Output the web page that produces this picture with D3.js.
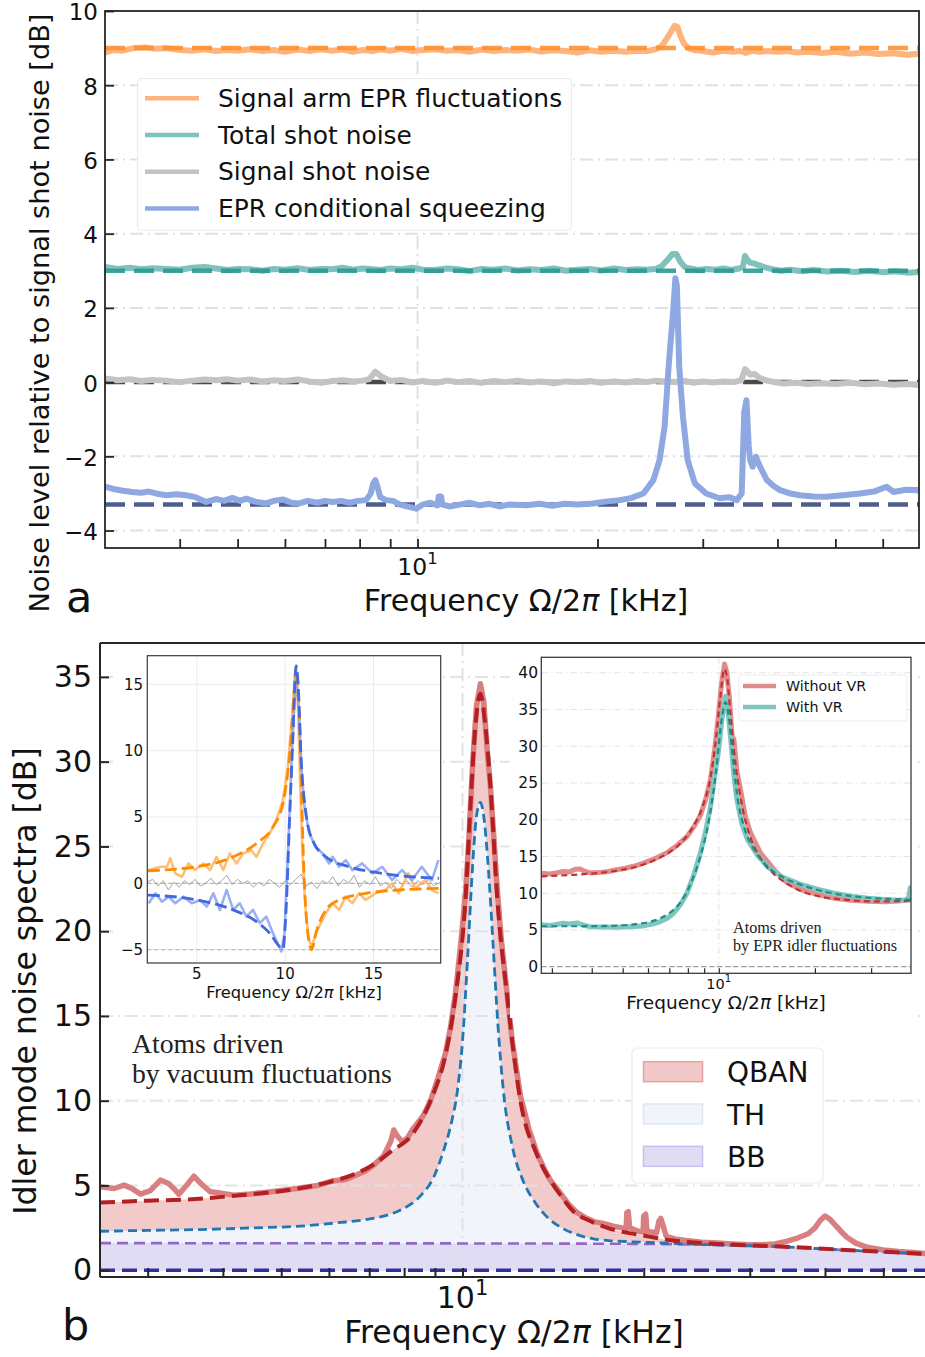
<!DOCTYPE html>
<html>
<head>
<meta charset="utf-8">
<script src="https://cdn.jsdelivr.net/npm/d3@7"></script>
<style>
  body { margin: 0; background: #fff; }
  svg { display: block; }
</style>
</head>
<body>
<svg id="fig" width="925" height="1357"></svg>
<script>
// ---------------- Panel a: noise levels relative to signal shot noise ----------------
const topYTicks = [-4, -2, 0, 2, 4, 6, 8, 10];
const topXTicks = [4, 5, 6, 7, 8, 9, 10, 20, 30, 40, 50, 60];

// [frequency kHz, dB]
const signalArmEPR = [[3.0,8.88],[3.1,8.95],[3.2,8.93],[3.35,9.0],[3.5,9.02],[3.65,8.98],[3.8,9.0],[4.0,8.95],[4.2,8.93],[4.4,8.97],[4.6,8.92],[4.8,8.95],[5.0,8.93],[5.25,8.97],[5.5,8.92],[5.75,8.95],[6.0,8.9],[6.3,8.96],[6.6,8.92],[6.9,8.97],[7.2,8.93],[7.5,8.96],[7.8,8.9],[8.1,8.95],[8.4,8.92],[8.7,8.97],[9.0,8.93],[9.4,8.98],[9.8,8.92],[10.2,8.95],[10.7,8.97],[11.2,8.93],[11.7,8.95],[12.2,8.9],[12.8,8.96],[13.4,8.92],[14.0,8.95],[14.7,8.93],[15.4,8.96],[16.1,8.91],[16.9,8.94],[17.7,8.92],[18.5,8.88],[19.4,8.94],[20.3,8.9],[21.3,8.93],[22.3,8.9],[23.3,8.93],[24.2,8.92],[25.0,8.97],[25.6,9.05],[26.1,9.25],[26.5,9.42],[26.9,9.6],[27.2,9.58],[27.5,9.35],[27.9,9.12],[28.4,9.0],[29.0,8.95],[30.0,8.92],[31.2,8.88],[32.5,8.93],[33.8,8.9],[34.6,8.93],[35.4,8.87],[36.3,8.93],[37.3,8.9],[38.5,8.92],[40.0,8.9],[41.5,8.92],[43.0,8.88],[45.0,8.9],[47.5,8.87],[50.0,8.9],[53.0,8.85],[56.0,8.88],[59.0,8.84],[62.5,8.86],[66.0,8.82],[69.0,8.85]];
const totalShotNoise = [[3.0,3.1],[3.15,3.05],[3.3,3.08],[3.45,3.04],[3.6,3.07],[3.8,3.05],[4.0,3.03],[4.2,3.08],[4.4,3.1],[4.6,3.06],[4.8,3.02],[5.0,3.05],[5.25,3.04],[5.5,3.0],[5.75,3.05],[6.0,3.03],[6.3,3.07],[6.6,3.02],[6.9,3.05],[7.2,3.04],[7.5,3.08],[7.8,3.03],[8.1,3.06],[8.4,3.04],[8.7,3.02],[9.0,3.06],[9.4,3.04],[9.8,3.08],[10.2,3.03],[10.7,3.02],[11.2,3.06],[11.7,3.04],[12.2,2.99],[12.8,3.05],[13.4,3.03],[14.0,3.06],[14.7,3.01],[15.4,3.04],[16.1,3.02],[16.9,3.06],[17.7,3.0],[18.5,3.03],[19.4,3.05],[20.3,3.01],[21.3,3.06],[22.3,3.02],[23.3,3.04],[24.2,3.03],[25.0,3.05],[25.6,3.12],[26.2,3.3],[26.7,3.45],[27.1,3.45],[27.5,3.25],[28.0,3.1],[28.6,3.06],[29.4,3.02],[30.4,3.05],[31.5,3.03],[32.5,3.06],[33.5,3.02],[34.5,3.06],[35.0,3.1],[35.3,3.4],[35.6,3.3],[36.0,3.22],[36.5,3.2],[37.2,3.15],[38.0,3.1],[39.0,3.05],[40.5,3.0],[42.0,3.03],[44.0,2.99],[46.0,3.02],[48.5,2.98],[51.0,3.0],[54.0,2.97],[57.0,3.0],[60.0,2.96],[63.0,2.99],[66.0,2.95],[69.0,2.97]];
const signalShotNoise = [[3.0,0.1],[3.15,0.05],[3.3,0.08],[3.45,0.03],[3.6,0.06],[3.8,0.04],[4.0,0.0],[4.2,0.04],[4.4,0.07],[4.6,0.05],[4.8,0.08],[5.0,0.04],[5.25,0.07],[5.5,0.02],[5.75,0.05],[6.0,0.03],[6.3,0.07],[6.6,0.02],[6.9,-0.02],[7.2,0.03],[7.5,0.05],[7.8,0.02],[8.1,0.04],[8.3,0.08],[8.5,0.28],[8.7,0.15],[9.0,0.03],[9.4,0.06],[9.8,-0.01],[10.2,0.03],[10.7,-0.02],[11.2,0.04],[11.7,0.0],[12.2,0.03],[12.8,-0.02],[13.4,0.03],[14.0,0.0],[14.7,0.04],[15.4,-0.01],[16.1,0.02],[16.9,-0.03],[17.7,0.02],[18.5,0.0],[19.4,0.03],[20.3,-0.02],[21.3,0.02],[22.3,-0.01],[23.3,0.03],[24.2,0.0],[25.0,0.04],[26.0,0.02],[27.0,0.0],[28.0,0.03],[29.0,-0.02],[30.0,0.02],[31.2,-0.01],[32.5,0.02],[33.8,0.0],[34.8,0.05],[35.3,0.35],[35.6,0.3],[36.0,0.2],[36.6,0.22],[37.3,0.12],[38.2,0.05],[39.5,0.0],[41.0,-0.04],[43.0,-0.02],[45.0,-0.05],[47.5,-0.03],[50.0,-0.05],[53.0,-0.02],[56.0,-0.06],[59.0,-0.04],[62.5,-0.07],[66.0,-0.05],[69.0,-0.08]];
const eprConditional = [[3.0,-2.82],[3.1,-2.88],[3.2,-2.92],[3.33,-2.96],[3.45,-2.98],[3.55,-2.95],[3.65,-3.0],[3.8,-3.05],[3.95,-3.02],[4.1,-3.05],[4.25,-3.1],[4.43,-3.23],[4.6,-3.15],[4.75,-3.2],[4.9,-3.12],[5.05,-3.2],[5.17,-3.14],[5.35,-3.22],[5.58,-3.27],[5.75,-3.2],[5.95,-3.16],[6.15,-3.25],[6.34,-3.27],[6.55,-3.2],[6.8,-3.25],[7.0,-3.2],[7.21,-3.23],[7.45,-3.2],[7.7,-3.25],[7.95,-3.2],[8.2,-3.18],[8.35,-3.0],[8.42,-2.75],[8.5,-2.64],[8.58,-2.85],[8.66,-3.1],[8.86,-3.18],[9.1,-3.2],[9.35,-3.3],[9.6,-3.35],[9.95,-3.41],[10.2,-3.3],[10.5,-3.25],[10.8,-3.32],[10.85,-3.08],[10.95,-3.08],[11.0,-3.3],[11.3,-3.35],[11.76,-3.3],[12.2,-3.25],[12.7,-3.32],[13.2,-3.28],[13.7,-3.35],[14.2,-3.3],[15.2,-3.32],[16.0,-3.28],[16.8,-3.33],[17.6,-3.28],[18.5,-3.3],[19.67,-3.27],[20.6,-3.22],[21.8,-3.18],[22.8,-3.12],[23.86,-3.0],[24.8,-2.64],[25.4,-2.1],[25.9,-1.2],[26.3,0.41],[26.75,1.85],[27.0,2.8],[27.15,2.6],[27.4,0.41],[27.8,-0.94],[28.3,-2.1],[29.1,-2.73],[30.4,-3.0],[32.0,-3.13],[33.2,-3.1],[34.2,-3.18],[34.85,-3.0],[35.2,-0.8],[35.5,-0.49],[35.8,-1.7],[36.0,-2.1],[36.35,-2.28],[36.8,-2.01],[37.4,-2.28],[38.4,-2.64],[39.4,-2.8],[40.4,-2.91],[42.0,-3.0],[43.6,-3.05],[46.0,-3.08],[48.3,-3.09],[51.5,-3.05],[55.0,-3.0],[58.0,-2.95],[60.9,-2.82],[62.6,-2.96],[65.5,-2.9],[68.5,-2.91],[69.0,-2.95]];
// theoretical levels (dB)
const topLevels = [9.0, 3.0, 0.0, -3.3];

// ---------------- Panel b: idler mode noise spectra ----------------
const botYTicks = [0, 5, 10, 15, 20, 25, 30, 35];
const botXTicks = [3, 4, 5, 6, 7, 8, 9, 10, 20, 30, 40, 50];

const qbanMeasured = [[2.5,4.92],[2.64,4.82],[2.74,5.02],[2.83,4.8],[2.92,4.49],[3.03,4.69],[3.15,5.32],[3.25,5.12],[3.32,4.8],[3.38,4.49],[3.48,5.0],[3.58,5.55],[3.68,5.1],[3.81,4.63],[3.95,4.55],[4.17,4.43],[4.45,4.5],[4.74,4.6],[5.0,4.7],[5.38,4.85],[5.75,5.0],[6.11,5.28],[6.4,5.35],[6.6,5.55],[6.9,5.85],[7.12,6.2],[7.4,6.75],[7.6,7.6],[7.69,8.27],[7.8,7.9],[7.94,7.58],[8.1,7.8],[8.3,8.4],[8.6,9.1],[8.85,10.0],[9.1,11.3],[9.37,12.8],[9.55,14.3],[9.74,16.4],[9.95,19.5],[10.12,22.3],[10.25,25.5],[10.4,30],[10.55,33.3],[10.71,34.6],[10.85,33.5],[11.0,30.5],[11.13,28.5],[11.3,25],[11.42,22.5],[11.6,19.5],[11.86,16.3],[12.1,13.5],[12.48,10.3],[12.9,8.3],[13.3,6.9],[13.7,5.9],[14.0,5.3],[14.5,4.6],[15.0,3.9],[15.5,3.4],[16.0,3.1],[16.6,2.85],[17.2,2.75],[17.8,2.6],[18.4,2.5],[18.7,2.45],[18.75,3.4],[18.85,3.45],[18.95,2.5],[19.6,2.3],[19.95,2.25],[20.0,3.2],[20.15,3.3],[20.25,2.3],[21.0,2.2],[21.2,2.9],[21.35,3.05],[21.55,2.6],[21.8,2.0],[22.5,1.85],[23.5,1.75],[25,1.65],[26.5,1.6],[28,1.55],[30,1.5],[31.5,1.5],[33,1.55],[34.5,1.7],[36,1.9],[37.5,2.15],[38.5,2.5],[39.3,2.95],[40.0,3.2],[40.8,3.0],[41.5,2.7],[42.5,2.3],[43.5,1.95],[45,1.6],[47,1.35],[50,1.2],[53,1.1],[56,1.05],[60,0.95]];
const qbanModel = [[2.5,4.0],[3.0,4.1],[3.6,4.2],[4.2,4.4],[4.8,4.6],[5.4,4.85],[6.0,5.2],[6.6,5.65],[7.2,6.35],[7.6,7.0],[8.25,8.0],[8.85,10.0],[9.37,12.7],[9.74,16.2],[10.12,22.0],[10.33,28.0],[10.5,32.0],[10.71,34.0],[10.9,32.3],[11.13,28.5],[11.42,22.0],[11.86,16.2],[12.48,10.0],[13.3,6.8],[14.0,5.3],[14.5,4.5],[15.3,3.45],[16.3,2.9],[17.4,2.5],[19.8,2.07],[22.4,1.75],[25.5,1.58],[30,1.47],[35,1.37],[42.5,1.21],[50,1.09],[60,0.94]];
const thModel = [[2.5,2.3],[3.0,2.35],[3.67,2.4],[4.5,2.5],[5.38,2.6],[6.2,2.8],[6.95,3.0],[7.5,3.25],[7.89,3.55],[8.52,4.4],[8.96,5.5],[9.31,7.1],[9.6,8.8],[9.8,10.5],[10.0,13.5],[10.2,18.5],[10.4,24],[10.55,26.8],[10.71,27.6],[10.87,26.5],[11.05,23.5],[11.25,19.0],[11.45,14.5],[11.7,10.5],[12.1,7.3],[12.6,5.3],[13.2,4.0],[13.9,3.05],[14.7,2.45],[15.5,2.1],[16.5,1.85],[17.5,1.75],[19.0,1.68],[21,1.62],[25,1.52],[30,1.45],[35,1.36],[42.5,1.2],[50,1.08],[60,0.93]];
const bbModel = [[2.5,1.6],[5,1.59],[10,1.58],[15,1.57],[20,1.55],[25,1.5],[30,1.45],[35,1.36],[42.5,1.2],[50,1.08],[60,0.93]];
const legendB = ["QBAN", "TH", "BB"];

// inset: signal / idler quadratures (linear frequency axis)
const insetLXTicks = [5, 10, 15];
const insetLYTicks = [-5, 0, 5, 10, 15];
const quadOrangeMeas = [[2.28,1.0],[2.94,1.25],[3.31,1.25],[3.5,1.9],[3.78,0.75],[4.16,0.5],[4.53,1.5],[4.9,1.0],[5.37,1.5],[5.75,1.0],[6.12,2.0],[6.5,1.0],[6.87,2.25],[7.25,1.5],[7.62,2.25],[8.09,2.5],[8.37,2.0],[8.75,3.0],[9.12,3.75],[9.49,4.75],[9.87,6.25],[10.15,8.75],[10.39,12.5],[10.58,16.25],[10.73,13.25],[10.86,7.0],[10.99,2.0],[11.14,-1.75],[11.33,-4.25],[11.52,-4.75],[11.74,-3.75],[12.02,-3.0],[12.3,-2.25],[12.68,-1.5],[13.05,-2.0],[13.43,-1.0],[13.8,-1.5],[14.18,-0.75],[14.55,-1.25],[15.11,-0.75],[15.67,-0.5],[16.05,0.0],[16.42,-0.75],[16.98,0.75],[17.36,-0.38],[17.92,0.25],[18.3,-0.5],[18.67,-0.75]];
const quadOrangeFit = [[2.23,0.95],[5.0,1.25],[7.06,2.0],[8.37,3.0],[9.31,4.25],[9.87,6.0],[10.24,9.5],[10.52,14.5],[10.62,16.25],[10.75,14.5],[10.9,8.25],[11.03,2.0],[11.18,-2.25],[11.37,-4.5],[11.5,-5.0],[11.74,-3.75],[12.3,-2.0],[13.05,-1.25],[14.55,-0.75],[16.42,-0.5],[18.7,-0.38]];
const quadBlueMeas = [[2.28,-1.5],[2.66,-0.75],[3.03,-1.38],[3.41,-1.0],[3.78,-1.5],[4.25,-1.0],[4.72,-1.5],[5.19,-1.25],[5.56,-1.75],[5.94,-0.75],[6.31,-2.0],[6.69,-0.5],[7.06,-2.0],[7.43,-1.5],[7.81,-2.5],[8.18,-2.0],[8.56,-3.0],[8.93,-2.5],[9.31,-3.75],[9.78,-5.13],[9.96,-3.75],[10.15,2.0],[10.39,10.0],[10.62,16.0],[10.77,13.25],[10.92,8.75],[11.09,5.75],[11.37,3.75],[11.74,2.75],[12.12,2.25],[12.49,1.5],[12.68,2.0],[13.05,1.25],[13.43,1.75],[13.8,1.0],[14.36,1.5],[14.93,0.75],[15.49,1.25],[16.05,0.25],[16.61,1.0],[17.17,0.25],[17.73,1.25],[18.3,0.25],[18.67,1.75]];
const quadBlueFit = [[2.23,-0.88],[5.0,-1.25],[7.06,-2.0],[8.37,-2.88],[9.12,-3.75],[9.68,-4.75],[9.87,-4.95],[10.06,-1.75],[10.24,4.5],[10.43,10.75],[10.62,16.4],[10.75,14.5],[10.9,9.5],[11.18,5.25],[11.55,3.25],[12.3,2.0],[13.61,1.25],[15.49,0.75],[18.7,0.38]];
const quadShotNoise = [[2.2,0.1],[2.5,0.3],[2.8,-0.2],[3.1,0.2],[3.4,-0.5],[3.7,0.1],[4.0,-0.3],[4.3,0.2],[4.6,-0.1],[4.9,0.3],[5.2,-0.2],[5.5,0.0],[5.8,0.4],[6.1,-0.1],[6.4,0.2],[6.7,0.6],[7.0,-0.1],[7.3,0.3],[7.6,0.0],[7.9,0.2],[8.2,-0.3],[8.5,0.1],[8.8,-0.2],[9.1,0.3],[9.4,0.0],[9.7,-0.3],[10.0,0.2],[10.3,-0.1],[10.6,0.3],[10.9,0.7],[11.2,-0.2],[11.5,0.1],[11.8,-0.4],[12.1,0.2],[12.4,0.0],[12.7,0.5],[13.0,-0.2],[13.3,0.3],[13.6,0.0],[13.9,0.6],[14.2,-0.3],[14.5,0.2],[14.8,-0.1],[15.1,0.5],[15.4,-0.2],[15.7,0.1],[16.0,-0.4],[16.3,0.3],[16.6,-0.1],[16.9,0.2],[17.2,-0.3],[17.5,0.2],[17.8,-0.1],[18.1,0.3],[18.4,-0.2],[18.8,0.1]];
const insetLRefs = [0, -5];

// inset: atoms driven by EPR idler fluctuations (log frequency axis)
const insetRXTicks = [3, 4, 5, 6, 7, 8, 9, 10, 20, 30];
const insetRYTicks = [0, 5, 10, 15, 20, 25, 30, 35, 40];
const withoutVRMeas = [[2.78,12.7],[2.95,12.6],[3.1,12.75],[3.25,12.95],[3.4,12.9],[3.55,13.25],[3.68,13.3],[3.8,13.0],[3.95,12.75],[4.2,12.8],[4.5,12.95],[4.79,13.2],[5.1,13.4],[5.45,13.7],[5.81,14.1],[6.3,14.7],[6.88,15.5],[7.4,16.5],[7.95,17.7],[8.4,19.2],[8.76,20.6],[9.1,22.8],[9.42,25.5],[9.7,29.5],[9.95,33.8],[10.2,38.5],[10.42,41.2],[10.6,40.0],[10.8,36.5],[11.0,31.5],[11.15,30.9],[11.4,26.5],[11.7,24.1],[12.1,20.5],[12.58,18.2],[13.5,15.5],[14.9,13.2],[16.3,11.5],[18.05,10.5],[20.5,9.8],[23.0,9.3],[26.0,9.05],[29.3,8.9],[33.0,8.85],[36.5,8.95],[40.0,9.1]];
const withoutVRFit = [[2.78,12.3],[3.5,12.5],[4.5,12.9],[5.5,13.6],[6.5,14.8],[7.5,16.6],[8.3,19.0],[8.9,21.8],[9.4,25.5],[9.8,31.0],[10.1,36.5],[10.4,40.5],[10.6,39.5],[10.85,35.0],[11.15,29.5],[11.7,23.0],[12.58,17.5],[13.5,14.8],[14.9,12.6],[16.5,11.2],[18.05,10.3],[21.0,9.5],[25.0,9.1],[30.0,8.9],[35.0,8.9],[40.0,9.0]];
const withVRMeas = [[2.78,5.7],[2.95,5.6],[3.1,5.75],[3.25,5.9],[3.4,5.8],[3.6,5.95],[3.8,5.6],[3.95,5.45],[4.3,5.4],[4.79,5.37],[5.3,5.45],[5.81,5.55],[6.2,5.8],[6.56,6.14],[6.9,6.6],[7.22,7.28],[7.6,8.5],[7.95,10.0],[8.35,12.5],[8.76,15.5],[9.1,18.5],[9.42,21.8],[9.7,25.8],[10.0,29.6],[10.25,34.0],[10.5,36.8],[10.7,34.5],[10.9,30.9],[11.15,26.0],[11.4,22.7],[11.8,19.5],[12.3,17.3],[13.2,15.2],[14.2,13.6],[15.8,12.2],[18.05,11.2],[20.5,10.5],[23.0,10.0],[26.0,9.6],[29.3,9.3],[33.0,9.15],[36.5,9.05],[38.8,9.1],[39.4,9.6],[39.7,10.5],[40.0,11.0]];
const withVRFit = [[2.78,5.5],[3.5,5.5],[4.5,5.55],[5.5,5.8],[6.3,6.3],[7.0,7.3],[7.6,8.8],[8.2,11.5],[8.76,15.0],[9.3,19.8],[9.8,26.5],[10.2,33.5],[10.5,36.0],[10.75,34.0],[11.0,29.5],[11.4,23.5],[12.0,19.0],[12.8,16.2],[14.0,13.9],[16.0,12.1],[18.5,11.0],[22.0,10.1],[26.0,9.6],[30.0,9.35],[35.0,9.2],[40.0,9.1]];
const legendR = ["Without VR", "With VR"];

// ---------------- drawing helpers ----------------
const SANS = "'DejaVu Sans', 'Liberation Sans', sans-serif";
const SERIF = "'Liberation Serif', 'DejaVu Serif', serif";
const INK = "#262626";
const GRID = "#dfe1e5";
const svg = d3.select("#fig").attr("font-family", SANS);
const defs = svg.append("defs");

function clip(id, x0, y0, x1, y1) {
  defs.append("clipPath").attr("id", id).append("rect")
    .attr("x", x0).attr("y", y0).attr("width", x1 - x0).attr("height", y1 - y0);
  return `url(#${id})`;
}
function trace(g, data, x, y, o) {
  const gen = d3.line().x(d => x(d[0])).y(d => y(d[1])).curve(o.curve || d3.curveLinear);
  return g.append("path").datum(data).attr("d", gen).attr("fill", "none")
    .attr("stroke", o.color).attr("stroke-width", o.width)
    .attr("stroke-dasharray", o.dash || null)
    .attr("stroke-opacity", o.opacity == null ? 1 : o.opacity)
    .attr("stroke-linejoin", "round").attr("stroke-linecap", o.cap || "butt");
}
function area(g, data, x, y, fill) {
  const gen = d3.area().x(d => x(d[0])).y0(y(0)).y1(d => y(d[1])).curve(d3.curveMonotoneX);
  g.append("path").datum(data).attr("d", gen).attr("fill", fill).attr("stroke", "none");
}
function hline(g, x0, x1, yy, o) {
  g.append("line").attr("x1", x0).attr("x2", x1).attr("y1", yy).attr("y2", yy)
    .attr("stroke", o.color).attr("stroke-width", o.width).attr("stroke-dasharray", o.dash || null)
    .attr("stroke-opacity", o.opacity == null ? 1 : o.opacity);
}
function vline(g, xx, y0, y1, o) {
  g.append("line").attr("x1", xx).attr("x2", xx).attr("y1", y0).attr("y2", y1)
    .attr("stroke", o.color).attr("stroke-width", o.width).attr("stroke-dasharray", o.dash || null);
}
function styleAxis(sel, size, tickW) {
  sel.attr("font-family", SANS).attr("font-size", size);
  sel.select(".domain").remove();
  sel.selectAll(".tick line").attr("stroke", INK).attr("stroke-width", tickW);
  sel.selectAll(".tick text").attr("fill", "#111");
}
function tenToOne(g, xx, yy, size) {
  const t = g.append("text").attr("x", xx).attr("y", yy).attr("text-anchor", "middle")
    .attr("font-size", size).attr("fill", "#111");
  t.append("tspan").text("10");
  t.append("tspan").attr("dy", -0.45 * size).attr("font-size", size * 0.7).text("1");
}
function freqLabel(g, xx, yy, size) {
  const t = g.append("text").attr("x", xx).attr("y", yy).attr("text-anchor", "middle")
    .attr("font-size", size).attr("fill", "#111");
  t.append("tspan").text("Frequency Ω/2");
  t.append("tspan").attr("font-style", "italic").text("π");
  t.append("tspan").text(" [kHz]");
}
const dashDot = "13,5,2,5";

// ================= Panel a =================
const A = { l: 105, r: 919, t: 11, b: 548 };
const xA = d3.scaleLog().domain([3, 69]).range([A.l, A.r]);
const yA = d3.scaleLinear().domain([-4.47, 10]).range([A.b, A.t]);
const gA = svg.append("g");

// grid
topYTicks.forEach(v => hline(gA, A.l, A.r, yA(v), { color: GRID, width: 2, dash: dashDot }));
vline(gA, xA(10), A.t, A.b, { color: GRID, width: 2, dash: dashDot });

const plotA = gA.append("g").attr("clip-path", clip("clipA", A.l, A.t, A.r, A.b));
const topDash = "20,9";
// theory levels beneath the measured traces for shot noise & squeezing
hline(plotA, A.l, A.r, yA(topLevels[2]), { color: "#4a4a4a", width: 4.5, dash: topDash });
hline(plotA, A.l, A.r, yA(topLevels[3]), { color: "#4f5d8e", width: 4.5, dash: topDash });
trace(plotA, signalArmEPR, xA, yA, { color: "#ffb47e", width: 6 });
trace(plotA, totalShotNoise, xA, yA, { color: "#80c1bb", width: 6 });
trace(plotA, signalShotNoise, xA, yA, { color: "#c3c3c3", width: 6 });
trace(plotA, eprConditional, xA, yA, { color: "#8ea8e2", width: 6 });
hline(plotA, A.l, A.r, yA(topLevels[0]), { color: "#ff9030", width: 4.5, dash: topDash, opacity: 0.9 });
hline(plotA, A.l, A.r, yA(topLevels[1]), { color: "#2a9a91", width: 4.5, dash: topDash, opacity: 0.9 });

// axes
const axYA = gA.append("g").attr("transform", `translate(${A.l},0)`)
  .call(d3.axisLeft(yA).tickValues(topYTicks).tickSize(-9).tickPadding(7).tickFormat(d3.format("d")));
styleAxis(axYA, 23, 1.8);
axYA.selectAll(".tick text").attr("dy", "0.39em");
const axXA = gA.append("g").attr("transform", `translate(0,${A.b})`)
  .call(d3.axisBottom(xA).tickValues(topXTicks).tickSize(-9).tickFormat(""));
styleAxis(axXA, 23, 1.8);
gA.append("rect").attr("x", A.l).attr("y", A.t).attr("width", A.r - A.l).attr("height", A.b - A.t)
  .attr("fill", "none").attr("stroke", INK).attr("stroke-width", 1.8);
tenToOne(gA, xA(10), 575, 23.5);
freqLabel(gA, 526, 611, 30.1);
gA.append("text").attr("transform", "translate(49,313) rotate(-90)").attr("text-anchor", "middle")
  .attr("font-size", 27.2).attr("fill", "#111").text("Noise level relative to signal shot noise [dB]");
gA.append("text").attr("x", 66).attr("y", 612).attr("font-size", 43).attr("fill", "#111").text("a");

// legend
const legA = gA.append("g");
legA.append("rect").attr("x", 137.5).attr("y", 78.5).attr("width", 434).attr("height", 151.5).attr("rx", 4)
  .attr("fill", "#fff").attr("stroke", "#ebebeb").attr("stroke-width", 1.2);
const legAItems = [["Signal arm EPR fluctuations", "#ffb47e"], ["Total shot noise", "#80c1bb"],
                   ["Signal shot noise", "#c3c3c3"], ["EPR conditional squeezing", "#8ea8e2"]];
legAItems.forEach((it, i) => {
  const cy = 98.3 + i * 36.7;
  hline(legA, 145, 199, cy, { color: it[1], width: 4.5 });
  legA.append("text").attr("x", 218).attr("y", cy + 8.7).attr("font-size", 24.9).attr("fill", "#111").text(it[0]);
});

// ================= Panel b =================
const B = { l: 100, r: 931, t: 643, b: 1277 };
const xB = d3.scaleLog().domain([2.5, 60]).range([B.l, B.r]);
const yB = d3.scaleLinear().domain([-0.4, 37]).range([B.b, B.t]);
const gB = svg.append("g");
const plotB = gB.append("g").attr("clip-path", clip("clipB", B.l, B.t, B.r, B.b));

// stacked contributions
area(plotB, qbanModel, xB, yB, "#f2caca");
area(plotB, thModel, xB, yB, "#f1f5fb");
area(plotB, bbModel, xB, yB, "#e0dcf4");

// grid
botYTicks.forEach(v => hline(plotB, B.l, B.r, yB(v), { color: GRID, width: 2, dash: dashDot, opacity: 0.9 }));
vline(plotB, xB(10), B.t, B.b, { color: GRID, width: 2, dash: dashDot });

trace(plotB, bbModel, xB, yB, { color: "#9467bd", width: 2.6, dash: "11,6", curve: d3.curveMonotoneX });
trace(plotB, qbanMeasured, xB, yB, { color: "#d97f80", width: 5.5 });
trace(plotB, thModel, xB, yB, { color: "#1f77b4", width: 2.8, dash: "9,5", curve: d3.curveMonotoneX });
trace(plotB, qbanModel, xB, yB, { color: "#b41f22", width: 4, dash: "15,7", curve: d3.curveMonotoneX });
hline(plotB, B.l, B.r, yB(0), { color: "#30309a", width: 3.5, dash: "15,7" });

// axes
const axYB = gB.append("g").attr("transform", `translate(${B.l},0)`)
  .call(d3.axisLeft(yB).tickValues(botYTicks).tickSize(-9).tickPadding(8).tickFormat(d3.format("d")));
styleAxis(axYB, 30, 2);
const axXB = gB.append("g").attr("transform", `translate(0,${B.b})`)
  .call(d3.axisBottom(xB).tickValues(botXTicks).tickSize(-9).tickFormat(""));
styleAxis(axXB, 30, 2);
hline(gB, B.l, B.r, B.t, { color: INK, width: 2 });
hline(gB, B.l, B.r, B.b, { color: INK, width: 2 });
vline(gB, B.l, B.t, B.b, { color: INK, width: 2 });
tenToOne(gB, xB(10), 1308, 30);
freqLabel(gB, 514, 1343, 31.5);
gB.append("text").attr("transform", "translate(36,981) rotate(-90)").attr("text-anchor", "middle")
  .attr("font-size", 31.5).attr("fill", "#111").text("Idler mode noise spectra [dB]");
gB.append("text").attr("x", 62).attr("y", 1340).attr("font-size", 43).attr("fill", "#111").text("b");

// annotation
const noteB = gB.append("text").attr("font-family", SERIF).attr("font-size", 27.7).attr("fill", "#222");
noteB.append("tspan").attr("x", 132).attr("y", 1053).text("Atoms driven");
noteB.append("tspan").attr("x", 132).attr("y", 1083).text("by vacuum fluctuations");

// legend
const legB = gB.append("g");
legB.append("rect").attr("x", 632).attr("y", 1048).attr("width", 191).attr("height", 135).attr("rx", 5)
  .attr("fill", "#fff").attr("stroke", "#ebebeb").attr("stroke-width", 1.2);
const legBStyle = [["#f0c8c8", "#e8a2a2"], ["#f1f5fb", "#dde7f4"], ["#e0dcf4", "#c8bff0"]];
legendB.forEach((name, i) => {
  const top = 1061.7 + i * 42.3;
  legB.append("rect").attr("x", 643.5).attr("y", top).attr("width", 59).attr("height", 20)
    .attr("fill", legBStyle[i][0]).attr("stroke", legBStyle[i][1]).attr("stroke-width", 1.5);
  legB.append("text").attr("x", 727).attr("y", top + 20.5).attr("font-size", 28).attr("fill", "#111").text(name);
});

// ================= Left inset =================
svg.append("rect").attr("x", 115).attr("y", 646).attr("width", 328).attr("height", 359).attr("fill", "#fff");
const L = { l: 147.3, r: 440.7, t: 655.7, b: 963 };
const xL = d3.scaleLinear().domain([2.2, 18.8]).range([L.l, L.r]);
const yL = d3.scaleLinear().domain([-6, 17.15]).range([L.b, L.t]);
const gL = svg.append("g");
insetLXTicks.forEach(v => vline(gL, xL(v), L.t, L.b, { color: "#e8ecf0", width: 1 }));
insetLYTicks.forEach(v => hline(gL, L.l, L.r, yL(v), { color: "#e8ecf0", width: 1 }));
const plotL = gL.append("g").attr("clip-path", clip("clipL", L.l, L.t, L.r, L.b));
insetLRefs.forEach(v => hline(plotL, L.l, L.r, yL(v), { color: "#b0b0b0", width: 1.2, dash: "4,3" }));
trace(plotL, quadShotNoise, xL, yL, { color: "#a6a6a6", width: 1 });
trace(plotL, quadOrangeMeas, xL, yL, { color: "#ffb35e", width: 2.6, opacity: 0.85 });
trace(plotL, quadBlueMeas, xL, yL, { color: "#7f9cf0", width: 2.6, opacity: 0.8 });
trace(plotL, quadOrangeFit, xL, yL, { color: "#ff8c00", width: 2.8, dash: "12,5", curve: d3.curveMonotoneX });
trace(plotL, quadBlueFit, xL, yL, { color: "#4169e1", width: 2.8, dash: "12,5", curve: d3.curveMonotoneX });
gL.append("rect").attr("x", L.l).attr("y", L.t).attr("width", L.r - L.l).attr("height", L.b - L.t)
  .attr("fill", "none").attr("stroke", "#3a3a3a").attr("stroke-width", 1.2);
insetLYTicks.forEach(v => gL.append("text").attr("x", 143).attr("y", yL(v) + 5.3).attr("text-anchor", "end")
  .attr("font-size", 15).attr("fill", "#111").text(d3.format("d")(v)));
insetLXTicks.forEach(v => gL.append("text").attr("x", xL(v)).attr("y", 979).attr("text-anchor", "middle")
  .attr("font-size", 15).attr("fill", "#111").text(v));
freqLabel(gL, 294, 998, 16.3);

// ================= Right inset =================
svg.append("rect").attr("x", 510).attr("y", 646).attr("width", 404).attr("height", 372).attr("fill", "#fff");
const R = { l: 541.3, r: 911, t: 657.3, b: 973.3 };
const xR = d3.scaleLog().domain([2.78, 40]).range([R.l, R.r]);
const yR = d3.scaleLinear().domain([-0.9, 42.1]).range([R.b, R.t]);
const gR = svg.append("g");
insetRYTicks.forEach(v => hline(gR, R.l, R.r, yR(v), { color: "#e2e4e8", width: 1.1, dash: "7,3,1.5,3" }));
vline(gR, xR(10), R.t, R.b, { color: "#e2e4e8", width: 1.1, dash: "7,3,1.5,3" });
const plotR = gR.append("g").attr("clip-path", clip("clipR", R.l, R.t, R.r, R.b));
hline(plotR, R.l, R.r, yR(0), { color: "#a0a0a0", width: 1.3, dash: "5,3" });
trace(plotR, withoutVRMeas, xR, yR, { color: "#e08c8c", width: 5 });
trace(plotR, withVRMeas, xR, yR, { color: "#7fc6bf", width: 5 });
trace(plotR, withoutVRFit, xR, yR, { color: "#c4322f", width: 2.2, dash: "6,4", curve: d3.curveMonotoneX });
trace(plotR, withVRFit, xR, yR, { color: "#1d8f89", width: 2.2, dash: "6,4", curve: d3.curveMonotoneX });
gR.append("rect").attr("x", R.l).attr("y", R.t).attr("width", R.r - R.l).attr("height", R.b - R.t)
  .attr("fill", "none").attr("stroke", "#3a3a3a").attr("stroke-width", 1.3);
const axXR = gR.append("g").attr("transform", `translate(0,${R.b})`)
  .call(d3.axisBottom(xR).tickValues(insetRXTicks).tickSize(-5).tickFormat(""));
styleAxis(axXR, 15, 1.2);
insetRYTicks.forEach(v => gR.append("text").attr("x", 538).attr("y", yR(v) + 5.5).attr("text-anchor", "end")
  .attr("font-size", 15.5).attr("fill", "#111").text(v));
tenToOne(gR, xR(10), 989, 14.5);
freqLabel(gR, 726, 1009, 18.5);
const noteR = gR.append("text").attr("font-family", SERIF).attr("font-size", 16.2).attr("fill", "#222");
noteR.append("tspan").attr("x", 733).attr("y", 933).text("Atoms driven");
noteR.append("tspan").attr("x", 733).attr("y", 951).text("by EPR idler fluctuations");
// legend
const legR = gR.append("g");
legR.append("rect").attr("x", 739).attr("y", 675).attr("width", 168).attr("height", 46).attr("rx", 3)
  .attr("fill", "#fff").attr("stroke", "#ececec").attr("stroke-width", 1);
[["#e08c8c"], ["#7fc6bf"]].forEach((c, i) => {
  const cy = 686 + i * 21;
  hline(legR, 743, 776, cy, { color: c[0], width: 4.5 });
  legR.append("text").attr("x", 786).attr("y", cy + 5.2).attr("font-size", 14.3).attr("fill", "#111").text(legendR[i]);
});
</script>
</body>
</html>
